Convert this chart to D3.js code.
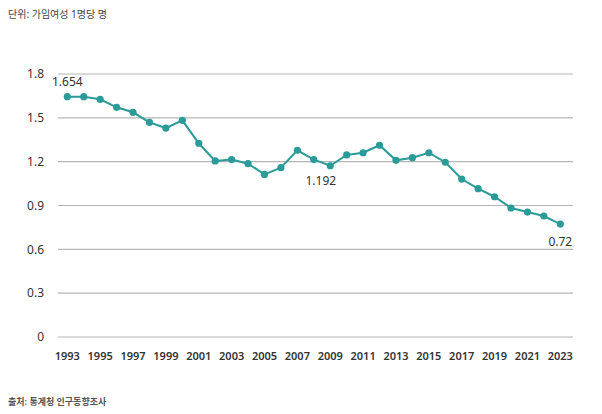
<!DOCTYPE html>
<html><head><meta charset="utf-8">
<script src="https://cdn.jsdelivr.net/npm/d3@7"></script>
<style>body{margin:0;background:#fff;font-family:"Noto Sans","Noto Sans CJK KR",sans-serif;}</style>
</head><body><svg id="c" width="602" height="414"></svg>
<script>
const years = d3.range(1993, 2024);
const values = [1.645,1.645,1.627,1.572,1.538,1.469,1.430,1.483,1.326,1.205,1.214,1.186,1.113,1.159,1.278,
  1.214,1.172,1.246,1.261,1.312,1.209,1.227,1.261,1.196,1.081,1.015,0.960,0.883,0.855,0.828,0.773];
const yTicks = [0,0.3,0.6,0.9,1.2,1.5,1.8];
const xTickYears = years.filter(y => (y - 1993) % 2 === 0);
const annotations = [{year:1993, text:"1.654"},{year:2008, text:"1.192"},{year:2023, text:"0.72"}];
const unitText = "단위: 가임여성 1명당 명";
const sourceText = "출처: 통계청 인구동향조사";

const svg = d3.select("#c");
const color = "#2a9b98";
const x = d3.scalePoint().domain(years).range([67.3, 560.3]);
const y = d3.scaleLinear().domain([0,1.8]).range([337,74]);
const gridX0 = 58, gridX1 = 573;

svg.append("text").attr("x",8).attr("y",18).attr("font-size",10).attr("fill","#444").text(unitText);
svg.append("text").attr("x",8).attr("y",405).attr("font-size",9).attr("font-weight","600").attr("fill","#555").text(sourceText);

const gy = svg.append("g");
yTicks.forEach(t => {
  gy.append("line").attr("x1",gridX0).attr("x2",gridX1).attr("y1",y(t)).attr("y2",y(t))
    .attr("stroke","#b5b5b5").attr("stroke-width",1.2);
  gy.append("text").attr("x",44).attr("y",y(t)).attr("dy","0.35em").attr("text-anchor","end")
    .attr("font-size",12).attr("fill","#333").text(t === 0 ? "0" : t.toFixed(1));
});

xTickYears.forEach(yr => {
  svg.append("text").attr("x",x(yr)).attr("y",356).attr("dy","0.35em").attr("text-anchor","middle")
    .attr("font-size",11).attr("font-weight","600").attr("fill","#333").text(yr);
});

const data = years.map((yr,i)=>({year:yr, value:values[i]}));
svg.append("path").datum(data)
  .attr("d", d3.line().x(d=>x(d.year)).y(d=>y(d.value)))
  .attr("fill","none").attr("stroke",color).attr("stroke-width",2);
svg.selectAll("circle.pt").data(data).enter().append("circle")
  .attr("cx",d=>x(d.year)).attr("cy",d=>y(d.value)).attr("r",3.6).attr("fill",color);

const annPos = {1993:{dx:0,dy:-15,anchor:"middle"},2008:{dx:7,dy:21,anchor:"middle"},2023:{dx:0,dy:18,anchor:"middle"}};
annotations.forEach(a => {
  const d = data.find(e=>e.year===a.year); const p = annPos[a.year];
  svg.append("text").attr("x",x(a.year)+p.dx).attr("y",y(d.value)+p.dy).attr("dy","0.35em")
    .attr("text-anchor",p.anchor).attr("font-size",12).attr("fill","#333").text(a.text);
});
</script></body></html>
